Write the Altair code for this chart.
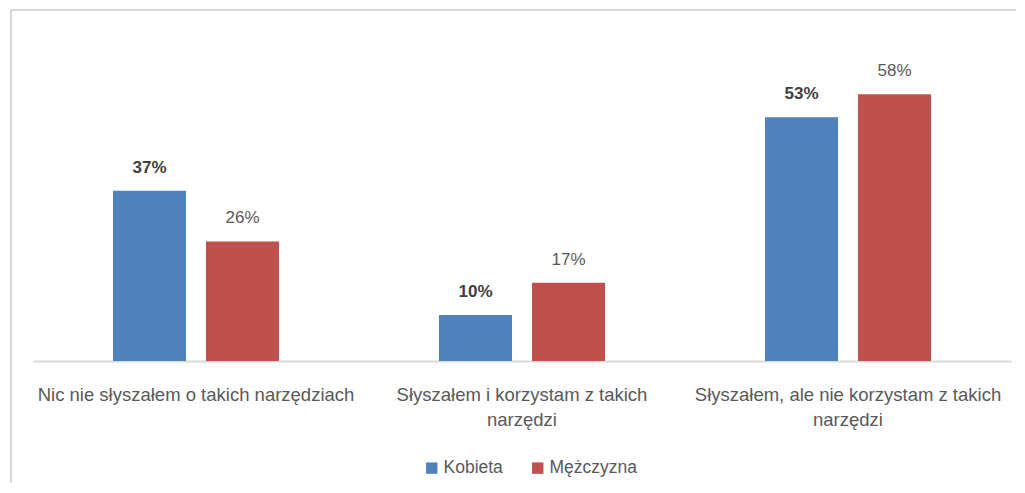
import altair as alt
import pandas as pd

categories = [
    "Nic nie słyszałem o takich narzędziach",
    "Słyszałem i korzystam z takich|narzędzi",
    "Słyszałem, ale nie korzystam z takich|narzędzi",
]
series = ["Kobieta", "Mężczyzna"]
kobieta = [0.37, 0.10, 0.53]
mezczyzna = [0.26, 0.17, 0.58]
colors = ["#4F81BD", "#C0504D"]

rows = []
for i, c in enumerate(categories):
    rows.append({"cat": c, "series": series[0], "value": kobieta[i], "lab": f"{round(kobieta[i]*100)}%"})
    rows.append({"cat": c, "series": series[1], "value": mezczyzna[i], "lab": f"{round(mezczyzna[i]*100)}%"})
df = pd.DataFrame(rows)

W, H = 978, 276
FONT = "Liberation Sans"

x = alt.X("cat:N", sort=categories, title=None,
          scale=alt.Scale(paddingInner=0, paddingOuter=0),
          axis=alt.Axis(labelAngle=0, tickSize=0, labelPadding=24, domainColor="#d9d9d9",
                        domainWidth=2, labelColor="#595959", labelFont=FONT, labelFontSize=18.5,
                        labelLineHeight=25, labelLimit=400,
                        labelExpr="split(datum.label, '|')"))
xo = alt.XOffset("series:N", sort=series, scale=alt.Scale(paddingInner=0.215, paddingOuter=0.86))
y = alt.Y("value:Q", scale=alt.Scale(domain=[0, 0.6]), axis=None)

bars = alt.Chart(df).mark_bar().encode(
    x=x, xOffset=xo, y=y,
    color=alt.Color("series:N", sort=series, scale=alt.Scale(domain=series, range=colors),
                    legend=alt.Legend(title=None, orient="none", legendX=390, legendY=374,
                                      direction="horizontal", symbolType="square", symbolSize=130,
                                      symbolStrokeWidth=0,
                                      labelFont=FONT, labelFontSize=17.5, labelColor="#595959",
                                      columnPadding=26, labelOffset=3)),
)

text_k = alt.Chart(df[df.series == series[0]]).mark_text(
    dy=-14, baseline="bottom", font=FONT, fontSize=17, fontWeight="bold", color="#404040"
).encode(x=x, xOffset=xo, y=y, text="lab:N")
text_m = alt.Chart(df[df.series == series[1]]).mark_text(
    dy=-14, baseline="bottom", font=FONT, fontSize=17, color="#595959"
).encode(x=x, xOffset=xo, y=y, text="lab:N")

frame = alt.Chart(pd.DataFrame({"a": [0]})).mark_rect(
    fill=None, stroke="#d9d9d9", strokeWidth=2, clip=False
).encode(x=alt.value(-22), x2=alt.value(1100), y=alt.value(-75), y2=alt.value(500))

chart = alt.layer(frame, bars, text_k, text_m).properties(
    width=W, height=H, autosize=alt.AutoSizeParams(type="none"),
    padding={"left": 25, "top": 77, "right": 5, "bottom": 122},
    background="white",
).configure_view(stroke=None)

chart.save("out.html", embed_options={"renderer": "svg", "actions": False})
